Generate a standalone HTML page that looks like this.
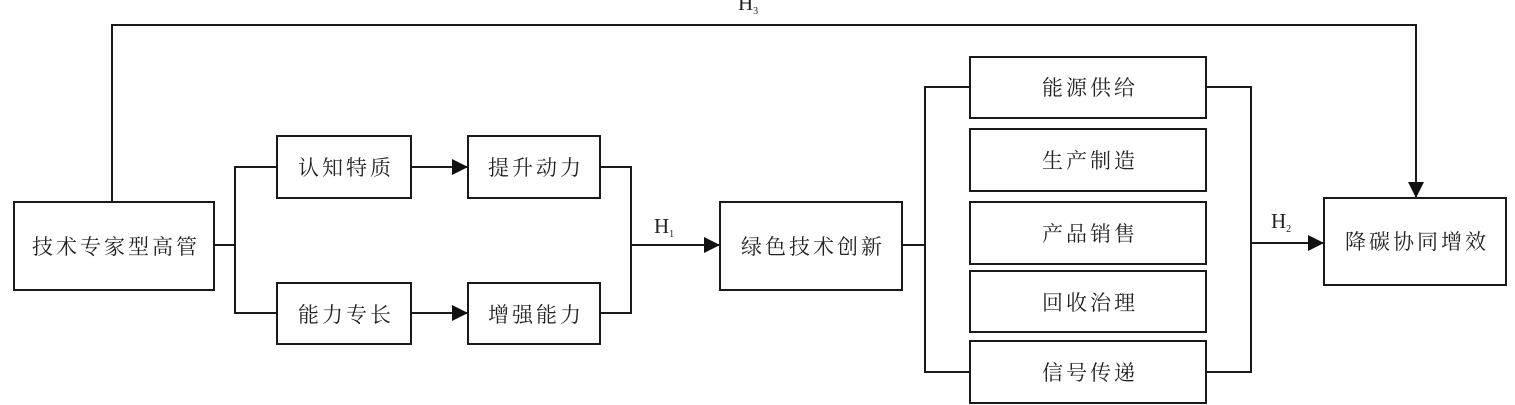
<!DOCTYPE html>
<html><head><meta charset="utf-8"><style>
html,body{margin:0;padding:0;background:#fff;}
svg{display:block;}
text{font-family:"Liberation Serif","Noto Serif CJK SC","Noto Sans CJK SC",serif;font-size:21px;fill:#222;letter-spacing:3px;}
.s{font-family:"Liberation Serif",serif;letter-spacing:0;}
</style></head><body>
<svg width="1515" height="405" viewBox="0 0 1515 405" xmlns="http://www.w3.org/2000/svg">
<defs><marker id="b" viewBox="0 0 16 16" markerWidth="16" markerHeight="16" refX="16" refY="8" orient="auto" markerUnits="userSpaceOnUse"><path d="M0,0 L16,8 L0,16 z" fill="#111"/></marker></defs>
<g fill="none" stroke="#1a1a1a" stroke-width="2">
<rect x="14" y="202" width="200" height="88"/>
<rect x="277" y="136" width="134" height="62"/>
<rect x="468" y="136" width="132" height="62"/>
<rect x="277" y="283" width="134" height="61"/>
<rect x="468" y="283" width="132" height="61"/>
<rect x="720" y="202" width="182" height="88"/>
<rect x="970" y="57" width="236" height="61"/>
<rect x="970" y="129" width="236" height="62"/>
<rect x="970" y="202" width="236" height="62"/>
<rect x="970" y="271" width="236" height="61"/>
<rect x="970" y="341" width="236" height="62"/>
<rect x="1324" y="198" width="182" height="87"/>
<polyline points="112,202 112,25 1416,25 1416,198" marker-end="url(#b)"/>
<polyline points="214,245 235,245"/>
<polyline points="277,167 235,167 235,313 277,313"/>
<line x1="411" y1="167" x2="468" y2="167" marker-end="url(#b)"/>
<line x1="411" y1="313" x2="468" y2="313" marker-end="url(#b)"/>
<polyline points="600,167 631,167 631,313 600,313"/>
<line x1="631" y1="245" x2="720" y2="245" marker-end="url(#b)"/>
<polyline points="902,245 925,245"/>
<polyline points="970,87 925,87 925,372 970,372"/>
<polyline points="1206,87 1251,87 1251,372 1206,372"/>
<line x1="1251" y1="243" x2="1324" y2="243" marker-end="url(#b)"/>
</g>
<g text-anchor="middle">
<text x="116" y="254">技术专家型高管</text>
<text x="346" y="175">认知特质</text>
<text x="536" y="175">提升动力</text>
<text x="346" y="322">能力专长</text>
<text x="536" y="322">增强能力</text>
<text x="813" y="254">绿色技术创新</text>
<text x="1090" y="95">能源供给</text>
<text x="1090" y="168">生产制造</text>
<text x="1090" y="241">产品销售</text>
<text x="1090" y="310">回收治理</text>
<text x="1090" y="380">信号传递</text>
<text x="1417" y="249">降碳协同增效</text>
</g>
<text class="s" x="654" y="233" style="font-size:21px">H<tspan style="font-size:10px" dy="4">1</tspan></text>
<text class="s" x="1271" y="228" style="font-size:21px">H<tspan style="font-size:10px" dy="4">2</tspan></text>
<text class="s" x="738" y="10" style="font-size:21px">H<tspan style="font-size:10px" dy="4">3</tspan></text>
</svg>
</body></html>
